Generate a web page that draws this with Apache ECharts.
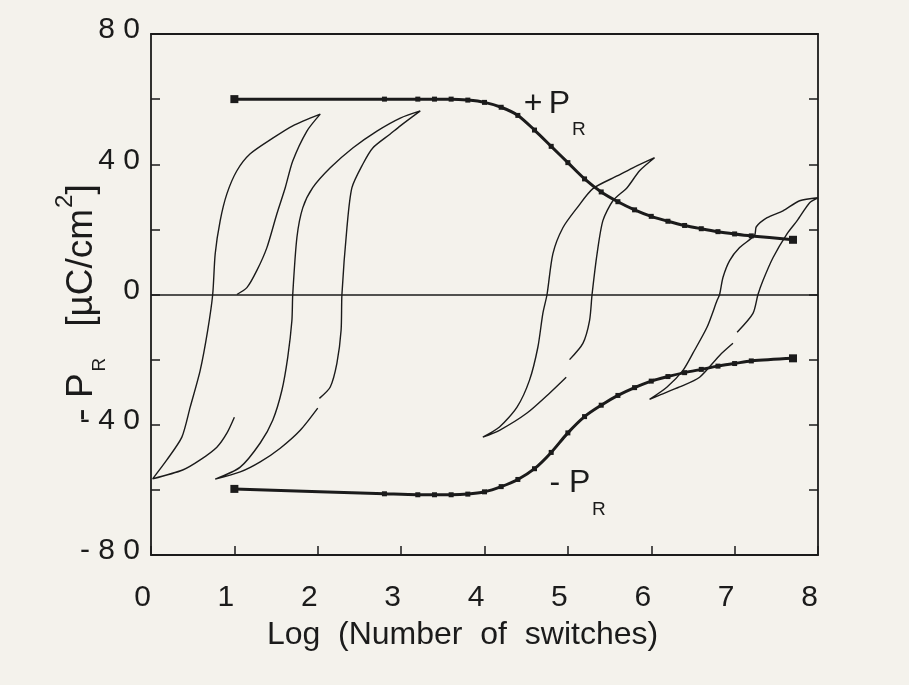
<!DOCTYPE html>
<html><head><meta charset="utf-8">
<script src="https://cdn.jsdelivr.net/npm/echarts@6/dist/echarts.min.js"></script>
<style>html,body{margin:0;padding:0;background:#f4f2ec}#c{width:909px;height:685px}</style>
</head><body><div id="c"></div>
<script>
// ---- tick labels ----
const xTickLabels = ['0','1','2','3','4','5','6','7','8'];
const yTickValues = [80, 40, 0, -40, -80];
const yTickLabels = ['8 0', '4 0', '0', '- 4 0', '- 8 0'];

// ---- remanent polarisation curves (log N, µC/cm²) ----
const plusLogN  = [1.0, 2.8, 3.2, 3.4, 3.6, 3.8, 4.0, 4.2, 4.4, 4.6, 4.8, 5.0, 5.2, 5.4, 5.6, 5.8, 6.0, 6.2, 6.4, 6.6, 6.8, 7.0, 7.2, 7.7];
const plusPR    = [60, 60, 60, 60, 60, 59.7, 59, 57.5, 55, 50.5, 45.5, 40.5, 35.5, 31.5, 28.5, 26, 24, 22.5, 21.2, 20.2, 19.3, 18.6, 18, 16.8];
const minusLogN = [1.0, 2.8, 3.2, 3.4, 3.6, 3.8, 4.0, 4.2, 4.4, 4.6, 4.8, 5.0, 5.2, 5.4, 5.6, 5.8, 6.0, 6.2, 6.4, 6.6, 6.8, 7.0, 7.2, 7.7];
const minusPR   = [-59.7, -61.2, -61.5, -61.5, -61.5, -61.3, -60.6, -59, -56.8, -53.5, -48.5, -42.5, -37.5, -34, -31, -28.6, -26.6, -25.2, -24, -23, -22, -21.2, -20.4, -19.6];

// ---- hysteresis loops (x = log N scale position, y = P) ; null = gap in trace ----
const loopA = [[1.0,-37.7],[0.91,-42.6],[0.79,-46.9],[0.59,-50.8],[0.38,-53.9],[0.02,-56.6],
  [0.19,-50.8],[0.37,-43.8],[0.47,-34.6],[0.59,-23.3],[0.68,-11],[0.74,0],[0.77,12.5],[0.83,22.7],
  [0.91,30.9],[1.03,38],[1.19,43.2],[1.46,48],[1.7,51.8],[2.03,55.4],
  [1.87,50.2],[1.7,41],[1.61,32.8],[1.51,24.8],[1.39,14.4],[1.27,7.4],[1.15,2.1],[1.03,0]];
const loopB = [[3.23,56.4],[2.99,54.2],[2.71,50.2],[2.42,45],[2.15,38.9],[1.94,32.8],[1.82,26.6],
  [1.75,17.5],[1.7,0],[1.69,-8],[1.64,-19.3],[1.57,-29.4],[1.46,-38.6],[1.31,-45.6],[1.07,-53],[0.77,-56.7],
  [1.07,-54.5],[1.31,-51.4],[1.55,-47.2],[1.79,-41.7],[2.0,-34.9],[2.0,null],
  [2.02,-31.9],[2.15,-28.4],[2.23,-21.1],[2.28,-11],[2.29,0],[2.35,20.5],[2.41,32.8],[2.54,40],
  [2.66,45],[2.87,49.3],[2.99,51.8],[3.23,56.4]];
const loopC = [[6.04,42],[5.78,38.9],[5.59,36.4],[5.3,32.5],[5.11,26.6],[4.94,20.5],[4.82,12.5],
  [4.75,0],[4.7,-5.8],[4.64,-16.2],[4.54,-26.3],[4.39,-34.6],[4.18,-40.7],[3.98,-43.8],
  [4.18,-41.7],[4.51,-36.4],[4.78,-30.3],[4.98,-25.4],[5.0,null],
  [5.02,-20],[5.18,-15],[5.26,-8],[5.29,0],[5.35,12.5],[5.42,22.7],[5.54,28.8],[5.71,32.8],[5.86,38],[6.04,42]];
const loopD = [[8.0,29.7],[7.78,28.8],[7.58,25.7],[7.39,23.6],[7.26,20.8],[7.24,18.2],[7.06,14.4],
  [6.94,10.4],[6.86,5.2],[6.82,0],[6.79,-1.8],[6.67,-10],[6.5,-18],[6.38,-23.3],[6.19,-28.4],[5.98,-32.2],
  [6.1,-30.9],[6.34,-28.4],[6.58,-25.4],[6.82,-18.7],[6.98,-15],[7.0,null],
  [7.03,-11.6],[7.22,-5.8],[7.28,0],[7.34,4.3],[7.46,11.3],[7.63,18.7],[7.75,22.7],[7.9,28.2],[8.0,29.7]];

// ---- annotation anchors (data coords) and texts ----
const annotXY   = [[4.47, 58.4], [5.05, 50.6], [4.78, -57.8], [5.29, -66.2]];
const annotText = ['+\u2009P', 'R', '- P', 'R'];
const annotSub  = [false, true, false, true];

const INK = '#1b1b1b';
const FONT = '"Liberation Sans", Arial, Helvetica, sans-serif';

const chart = echarts.init(document.getElementById('c'), null, {renderer: 'canvas'});

function loopSeries(name, data) {
  return {
    name, type: 'line', data, showSymbol: false, symbol: 'none', smooth: 0.25,
    connectNulls: false, silent: true,
    lineStyle: {color: INK, width: 1.4}, z: 3
  };
}
function prSeries(name, xs, ys) {
  const n = xs.length;
  return {
    name, type: 'line', data: xs.map((x, i) => [x, ys[i]]), smooth: 0.3,
    symbol: 'rect', showSymbol: true, showAllSymbol: true,
    symbolSize: (v, p) => (p.dataIndex === 0 || p.dataIndex === n - 1) ? 8 : 5,
    itemStyle: {color: INK}, lineStyle: {color: INK, width: 3}, silent: true, z: 4
  };
}

const option = {
  animation: false,
  backgroundColor: '#f4f2ec',
  grid: {left: 151, right: 91, top: 34, bottom: 130, containLabel: false, outerBoundsMode: 'none'},
  xAxis: [{
    type: 'value', min: 0, max: 8, interval: 1, position: 'bottom',
    axisLine: {show: true, onZero: false, lineStyle: {color: INK, width: 1.8}},
    axisTick: {show: true, inside: true, length: 9, lineStyle: {color: INK, width: 1.5}},
    splitLine: {show: false},
    axisLabel: {show: true, showMinLabel: true, showMaxLabel: true, hideOverlap: false,
      color: INK, fontFamily: FONT, fontSize: 30, margin: 28, padding: [0, 17, 0, 0],
      formatter: v => xTickLabels[Math.round(v)] ?? ''},
    name: 'Log  (Number  of  switches)', nameLocation: 'middle', nameGap: 64, nameMoveOverlap: false,
    nameTextStyle: {color: INK, fontFamily: FONT, fontSize: 32, padding: [0, 44, 0, 0]}
  }, {
    type: 'value', min: 0, max: 8, position: 'top',
    axisLine: {show: true, onZero: false, lineStyle: {color: INK, width: 1.8}},
    axisTick: {show: false}, axisLabel: {show: false}, splitLine: {show: false}
  }],
  yAxis: [{
    type: 'value', min: -80, max: 80, interval: 20, position: 'left',
    axisLine: {show: true, onZero: false, lineStyle: {color: INK, width: 1.8}},
    axisTick: {show: true, inside: true, length: 9, lineStyle: {color: INK, width: 1.5}},
    splitLine: {show: false},
    axisLabel: {show: true, showMinLabel: true, showMaxLabel: true, hideOverlap: false,
      color: INK, fontFamily: FONT, fontSize: 30, margin: 11, lineHeight: 8, verticalAlign: 'bottom',
      formatter: v => { const i = yTickValues.indexOf(v); return i >= 0 ? yTickLabels[i] : ''; }},
    name: '{m|- P}{s|R}{m|   [µC/cm}{sup|2}{m|]}', nameLocation: 'middle', nameRotate: 90, nameGap: 42,
    nameMoveOverlap: false,
    nameTextStyle: {color: INK, fontFamily: FONT, fontSize: 37, padding: [0, 16, 0, 0],
      rich: {
        m: {color: INK, fontFamily: FONT, fontSize: 37, verticalAlign: 'top', padding: [10, 0, 0, 0]},
        sup: {color: INK, fontFamily: FONT, fontSize: 24, verticalAlign: 'top', padding: [0, 0, 0, 1]},
        s: {color: INK, fontFamily: FONT, fontSize: 19, verticalAlign: 'top', padding: [37, 0, 0, 2]}
      }}
  }, {
    type: 'value', min: -80, max: 80, interval: 20, position: 'right',
    axisLine: {show: true, onZero: false, lineStyle: {color: INK, width: 1.8}},
    axisTick: {show: true, inside: true, length: 9, lineStyle: {color: INK, width: 1.5}},
    axisLabel: {show: false}, splitLine: {show: false}
  }],
  series: [
    Object.assign(loopSeries('loopA', loopA), {
      markLine: {silent: true, symbol: 'none', animation: false, label: {show: false},
        lineStyle: {color: INK, width: 1.5, type: 'solid'}, data: [{yAxis: 0}]}
    }),
    loopSeries('loopB', loopB),
    loopSeries('loopC', loopC),
    loopSeries('loopD', loopD),
    prSeries('+PR', plusLogN, plusPR),
    prSeries('-PR', minusLogN, minusPR)
  ]
};
chart.setOption(option);

// curve annotations placed at data coordinates through the chart's own scales
chart.setOption({
  graphic: annotXY.map((p, i) => {
    const px = chart.convertToPixel({xAxisIndex: 0, yAxisIndex: 0}, p);
    return {
      type: 'text', x: px[0], y: px[1], silent: true, z: 10,
      style: {text: annotText[i], fill: INK, fontFamily: FONT,
        fontSize: annotSub[i] ? 19 : 32, align: 'left', verticalAlign: 'middle'}
    };
  })
});
</script>
</body></html>
